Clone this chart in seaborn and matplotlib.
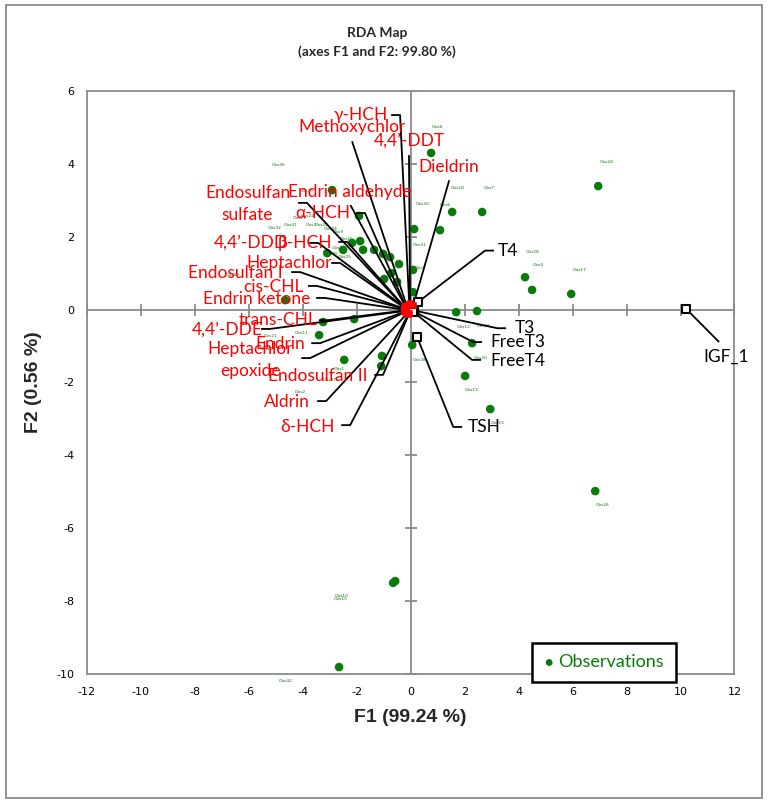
import matplotlib
matplotlib.use('Agg')
import matplotlib.pyplot as plt
import seaborn as sns
from matplotlib.patches import Rectangle

# --- Observations (scores on F1 / F2) ---
obs_names = ['Obs8', 'Obs24', 'Obs6', 'Obs7', 'Obs18', 'Obs30', 'Obs31', 'Obs5', 'Obs28', 'Obs4',
             'Obs17', 'Obs12', 'Obs19', 'Obs20', 'Obs38', 'Obs13', 'Obs23', 'Obs26', 'Obs10', 'Obs15',
             'Obs42', 'Obs36', 'Obs39', 'Obs27', 'Obs22', 'Obs32', 'Obs41', 'Obs3', 'Obs29', 'Obs34',
             'Obs9', 'Obs16', 'Obs33', 'Obs35', 'Obs25', 'Obs40', 'Obs21', 'Obs11', 'Obs14', 'Obs2',
             'Obs1', 'Obs37']
obs_x = [0.76, 6.95, 1.54, 2.65, 1.09, 0.13, 0.09, 0.09, 4.24, 4.50,
         5.95, 1.69, 2.46, 2.28, 0.06, 2.02, 2.95, 6.84, -0.65, -0.57,
         -2.65, -2.91, -1.91, -2.17, -1.87, -3.09, -2.50, -1.76, -1.35, -1.02,
         -0.76, -0.43, -0.72, -0.98, -0.50, -4.65, -3.24, -2.09, -3.39, -2.46,
         -1.06, -1.09]
obs_y = [4.30, 3.39, 2.68, 2.68, 2.18, 2.21, 1.09, 0.48, 0.89, 0.54,
         0.43, -0.07, -0.04, -0.92, -0.97, -1.82, -2.73, -4.98, -7.50, -7.45,
         -9.81, 3.28, 2.57, 1.83, 1.88, 1.55, 1.64, 1.64, 1.64, 1.53,
         1.44, 1.25, 1.00, 0.84, 0.76, 0.26, -0.34, -0.26, -0.70, -1.38,
         -1.27, -1.55]
# where the small observation labels sit
obs_lab_x = [0.98, 7.25, 1.28, 2.91, 1.76, 0.46, 0.35, 0.35, 4.54, 4.73,
             6.25, 1.98, 2.72, 2.58, 0.35, 2.28, 3.21, 7.13, -2.54, -2.58,
             -4.61, -4.87, -3.84, -4.10, -3.80, -5.02, -4.43, -3.69, -3.28, -2.95,
             -2.69, -2.35, -2.65, -2.91, -2.43, -6.58, -5.17, -4.02, -5.32, -4.10,
             -2.65, -2.98]
obs_lab_y = [5.01, 4.05, 2.87, 3.34, 3.34, 2.90, 1.77, 1.14, 1.58, 1.22,
             1.09, -0.48, -0.45, -1.33, -1.38, -2.21, -3.12, -5.36, -7.86, -7.94,
             -10.19, 3.97, 3.25, 2.51, 2.57, 2.24, 2.32, 2.32, 2.32, 2.21,
             2.13, 1.94, 1.69, 1.53, 1.44, 0.95, -0.73, -0.64, -1.08, -2.27,
             -1.63, -1.93]

# --- Explanatory variables (pesticides) ---
var_names = ['γ-HCH', 'Methoxychlor', '4,4’-DDT', 'Dieldrin', 'Endrin aldehyde',
             'Endosulfan\nsulfate', 'α-HCH', '4,4’-DDD', 'β-HCH', 'Heptachlor',
             'Endosulfan I', 'cis-CHL', 'Endrin ketone', 'trans-CHL', '4,4’-DDE',
             'Endrin', 'Heptachlor\nepoxide', 'Endosulfan II', 'Aldrin', 'δ-HCH']
var_x = [-0.05, -0.15, -0.02, 0.10, -0.20, -0.25, -0.18, -0.22, -0.20, -0.22,
         -0.25, -0.22, -0.25, -0.20, -0.25, -0.20, -0.22, -0.05, -0.12, -0.08]
var_y = [0.15, 0.12, 0.18, 0.12, 0.10, 0.08, 0.09, 0.06, 0.05, 0.04,
         0.03, 0.02, 0.00, -0.02, -0.04, -0.05, -0.07, -0.10, -0.10, -0.12]
var_lab_x = [-0.83, -2.17, -0.06, 1.43, -2.24, -4.46, -2.24, -4.54, -2.91, -2.91,
             -4.73, -3.98, -3.73, -3.47, -5.47, -3.91, -4.36, -1.58, -3.72, -2.80]
var_lab_y = [5.34, 5.01, 4.63, 3.91, 3.23, 2.89, 2.65, 1.83, 1.83, 1.28,
             1.00, 0.62, 0.29, -0.29, -0.56, -0.94, -1.39, -1.82, -2.54, -3.21]
var_lead_x = [-0.39, -2.17, -0.06, 1.43, -2.23, -3.84, -1.69, -3.42, -2.35, -2.61,
              -4.09, -3.47, -3.17, -3.06, -5.21, -3.35, -3.72, -1.02, -3.13, -2.24]
var_lead_y = [5.34, 4.62, 4.24, 3.55, 2.87, 2.93, 2.65, 1.83, 1.86, 1.28,
              1.03, 0.65, 0.32, -0.29, -0.53, -0.92, -1.33, -1.79, -2.51, -3.17]
var_ha = ['right', 'center', 'center', 'center', 'center', 'right', 'right', 'right', 'right', 'right',
          'right', 'right', 'right', 'right', 'right', 'right', 'right', 'right', 'right', 'right']

# --- Response variables ---
resp_names = ['T4', 'T3', 'FreeT3', 'FreeT4', 'TSH', 'IGF_1']
resp_x = [0.28, 0.10, 0.12, 0.10, 0.24, 10.21]
resp_y = [0.21, -0.02, -0.05, -0.06, -0.75, 0.02]
resp_lab_x = [3.24, 3.87, 2.95, 2.95, 2.13, 11.69]
resp_lab_y = [1.61, -0.51, -0.89, -1.40, -3.22, -1.30]
resp_lead_x = [2.76, 3.21, 2.32, 2.28, 1.58, 11.43]
resp_lead_y = [1.62, -0.51, -0.89, -1.38, -3.22, -0.89]
resp_ha = ['left', 'left', 'left', 'left', 'left', 'center']

X_TICKS = list(range(-12, 13, 2))
Y_TICKS = list(range(-10, 7, 2))

GREEN = '#0a7a0a'
RED = '#ff0000'
GRAY = '#8a8a8a'
STUB = 0.33

sns.set_style("white")
plt.rcParams['font.family'] = ['Lato', 'DejaVu Sans']
plt.rcParams['axes.unicode_minus'] = False

W, H = 770, 805
fig = plt.figure(figsize=(W / 100, H / 100), dpi=100)
ax = fig.add_axes([86.7 / W, 1 - 674 / H, (734.5 - 86.7) / W, (674 - 91) / H])
ax.set_xlim(-12, 12)
ax.set_ylim(-10, 6)

# axes through the origin with crossing tick marks
ax.axhline(0, color=GRAY, lw=1.3, zorder=1)
ax.axvline(0, color=GRAY, lw=1.3, zorder=1)
ax.plot(X_TICKS, [0] * len(X_TICKS), ls='', marker='|', ms=9, mew=1.3, color=GRAY, zorder=1)
ax.plot([0] * len(Y_TICKS), Y_TICKS, ls='', marker='_', ms=9, mew=1.3, color=GRAY, zorder=1)

# observations
sns.scatterplot(x=obs_x, y=obs_y, color=GREEN, s=38, edgecolor='none',
                label='Observations', ax=ax, zorder=3)
for name, lx, ly in zip(obs_names, obs_lab_x, obs_lab_y):
    ax.text(lx, ly, name, fontsize=3.2, color=GREEN, ha='center', va='center',
            family=['DejaVu Sans'], zorder=2)


def leader(px, py, cx, cy, ha):
    # stub next to the label, then a straight line to the point
    xs, ys = [cx, px], [cy, py]
    if ha == 'right':
        xs, ys = [cx - STUB] + xs, [cy] + ys
    elif ha == 'left':
        xs, ys = [cx + STUB] + xs, [cy] + ys
    ax.plot(xs, ys, color='black', lw=1.3, zorder=4, solid_capstyle='butt')


for i in range(len(resp_names)):
    leader(resp_x[i], resp_y[i], resp_lead_x[i], resp_lead_y[i], resp_ha[i])
    ax.text(resp_lab_x[i], resp_lab_y[i], resp_names[i], color='black', fontsize=12.5,
            ha=resp_ha[i], va='center', zorder=6)
sns.scatterplot(x=resp_x, y=resp_y, marker='s', s=28, facecolor='white', edgecolor='black',
                linewidth=1.5, legend=False, ax=ax, zorder=5)

for i in range(len(var_names)):
    leader(var_x[i], var_y[i], var_lead_x[i], var_lead_y[i], var_ha[i])
    ax.text(var_lab_x[i], var_lab_y[i], var_names[i], color=RED, fontsize=12.5,
            ha=var_ha[i], va='center', multialignment='center', linespacing=1.45, zorder=6)
sns.scatterplot(x=var_x, y=var_y, marker='s', s=22, color=RED, edgecolor=RED,
                legend=False, ax=ax, zorder=5)

# frame and ticks
for sp in ax.spines.values():
    sp.set_color(GRAY)
    sp.set_linewidth(1.3)
ax.set_xticks(X_TICKS)
ax.set_yticks(Y_TICKS)
ax.tick_params(length=0, labelsize=8, pad=9, colors='black')
for lab in ax.get_xticklabels() + ax.get_yticklabels():
    lab.set_family('DejaVu Sans')
ax.set_xlabel('')
ax.set_ylabel('')

leg = ax.legend(loc='lower left', bbox_to_anchor=(532 / W, 1 - 682 / H),
                bbox_transform=fig.transFigure, borderaxespad=0, frameon=True,
                fancybox=False, edgecolor='black', framealpha=1,
                prop={'size': 13}, labelcolor=GREEN, handletextpad=0.2,
                handlelength=0.6, borderpad=0.65, markerscale=0.8)
leg.get_frame().set_linewidth(1.8)
leg.set_zorder(7)

# titles and axis titles
fig.text(377 / W, 1 - 33 / H, 'RDA Map', ha='center', va='center',
         fontsize=10, fontweight='bold')
fig.text(377 / W, 1 - 52 / H, '(axes F1 and F2: 99.80 %)', ha='center', va='center',
         fontsize=10, fontweight='bold')
fig.text(410 / W, 1 - 717 / H, 'F1 (99.24 %)', ha='center', va='center',
         fontsize=14, fontweight='bold', family=['Liberation Sans'])
fig.text(33 / W, 1 - 382 / H, 'F2 (0.56 %)', ha='center', va='center', rotation=90,
         fontsize=14, fontweight='bold', family=['Liberation Sans'])

# outer chart border
fig.add_artist(Rectangle((6 / W, 1 - 798 / H), (762 - 6) / W, (798 - 5) / H,
                         transform=fig.transFigure, fill=False, edgecolor=GRAY, lw=1.3))

fig.savefig('out.png', dpi=100, facecolor='white')
